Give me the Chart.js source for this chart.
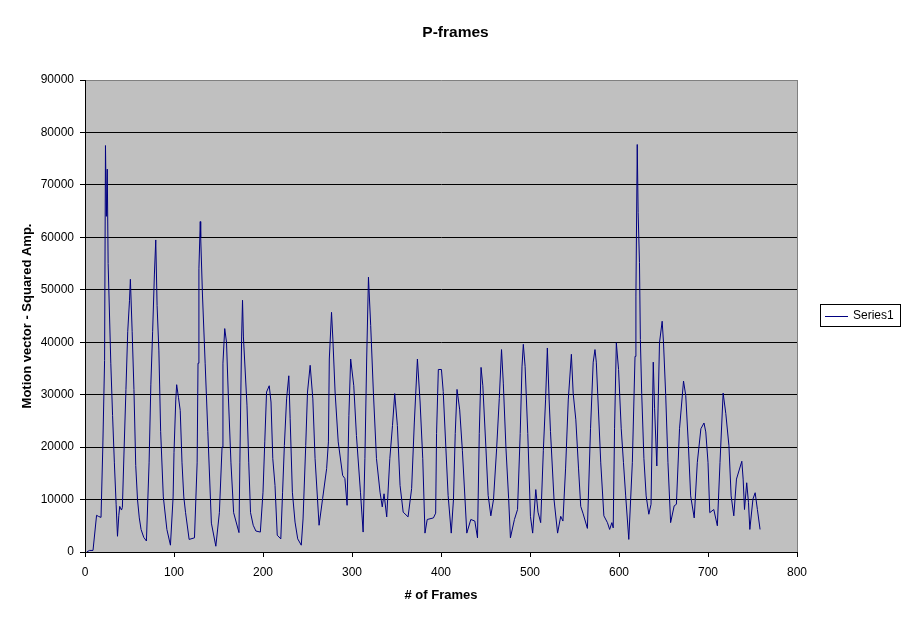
<!DOCTYPE html>
<html>
<head>
<meta charset="utf-8">
<title>P-frames</title>
<script src="https://cdn.jsdelivr.net/npm/chart.js@4/dist/chart.umd.min.js"></script>
<style>
  body { margin: 0; background: #fff; }
  canvas { display: block; }
</style>
</head>
<body>
<canvas id="pframes" width="911" height="623"></canvas>
<script>
// frame number of each sample
const frames = [
  2, 5, 9, 13, 15, 18, 20, 22, 23, 24, 25, 26, 29, 31, 33, 35, 36.5, 38, 39, 41,
  42, 44, 46, 48, 50, 51, 53, 55, 57, 59, 61, 63, 66, 69, 72, 74, 76, 78, 79.5, 81,
  83, 85, 88, 92, 96, 99, 100, 102, 103, 105, 107, 109, 111, 113, 117, 123, 126, 127, 128, 129.5,
  130, 132, 135, 138, 142, 147, 151, 154, 155, 157, 159, 161, 164, 167, 173, 174, 176, 177, 178, 182,
  184, 186, 189, 192, 197, 200, 202, 204, 207, 209, 211, 213.5, 216, 220, 222, 224, 226.5, 229, 230.5, 233,
  236, 239, 243, 245, 248, 250, 253, 256, 258.5, 263, 267, 271.5, 273.5, 274.5, 277, 278.5, 281, 284.5, 289.5, 292,
  294.5, 296.5, 298.5, 302, 305, 309.5, 312.5, 314.5, 316.5, 318.5, 321, 324, 327.5, 331.5, 334, 336, 339, 342.5, 345.5, 348,
  351, 354, 357.5, 363, 367, 370, 373.5, 376.5, 379.5, 382, 384.5, 391.5, 394, 395, 397, 400.5, 402.5, 405.5, 408, 411.5,
  414, 416, 418, 421, 424, 427, 429, 433.5, 438, 441, 443, 445, 447, 450.5, 453, 456, 459, 462.5, 465.5, 468,
  470, 473, 476, 478, 482.5, 486, 489, 491, 492.5, 494.5, 497.5, 500.5, 503, 506.5, 509, 512, 515, 517.5, 519.5, 521.5,
  523, 527, 531, 534.5, 537, 540, 543, 546.5, 548.5, 551.5, 554.5, 557, 559.5, 564.5, 568, 571, 573, 574.5, 577, 579.5,
  583, 587, 589.5, 592, 593.5, 595, 597, 599.5, 602.5, 605, 607.5, 611, 615, 618, 619, 620.5, 621.5, 623, 624, 625.5,
  628, 630.5, 633.5, 636, 638.5, 640, 642.5, 645.5, 648.5, 650, 652.5, 655, 658, 662, 664.5, 668, 672.5, 675, 678, 680.5,
  684.5, 688, 692, 695.5, 697.5, 700, 702, 706.5, 710.5, 713.5, 717, 720, 723.5, 726, 729, 732, 738, 739.5, 741, 743.5,
  745.5, 747, 750.5, 753, 755.5, 758.5
];

// motion vector squared amplitude per sample
const amplitudes = [
  0, 300, 300, 7000, 6800, 6600, 20000, 36500, 77500, 64000, 73000, 55000, 36000, 26000, 17000, 9000, 3000, 7000, 8700, 8000,
  8500, 20000, 31000, 42000, 48000, 52000, 42000, 31000, 16500, 10000, 6500, 4300, 2800, 2100, 17000, 32000, 42000, 53000, 59500, 47000,
  38500, 23000, 10500, 4300, 1300, 10500, 19000, 29000, 31900, 29500, 27000, 17000, 10500, 7500, 2400, 2700, 17000, 36000, 54000, 63000,
  60000, 49000, 36000, 23000, 5500, 1100, 7500, 20000, 36000, 42600, 40000, 30000, 17000, 7500, 3700, 17000, 41000, 48000, 41000, 28000,
  17000, 7500, 5100, 4000, 3800, 11400, 21000, 30500, 31700, 28600, 17800, 12700, 3200, 2500, 11400, 20300, 29200, 33600, 25400, 11400,
  5700, 2500, 1300, 6300, 20300, 30500, 35600, 29200, 17800, 5100, 10200, 15900, 21000, 36800, 45700, 40600, 30500, 21000, 14600, 14000,
  8900, 26000, 36800, 31700, 22200, 11400, 3800, 17800, 36800, 52400, 43200, 30500, 17800, 11400, 8600, 11100, 6700, 17800, 24100, 30200,
  24100, 12700, 7600, 6700, 12100, 24600, 36800, 28600, 17800, 3600, 6200, 6500, 7400, 22600, 34800, 34800, 30600, 19700, 10800, 3600,
  10000, 22600, 31000, 27100, 19400, 10000, 3600, 6200, 5900, 2700, 22600, 35200, 31700, 19700, 10800, 6900, 10000, 19700, 29300, 38600,
  32200, 19700, 10200, 2700, 6200, 8100, 22600, 35300, 39600, 35400, 22600, 6800, 3600, 11900, 7600, 5600, 19400, 29000, 38900, 29000,
  23000, 10000, 3600, 6800, 5900, 16000, 29000, 37700, 30300, 25200, 16000, 8700, 7400, 4500, 23500, 36200, 38600, 36200, 26700, 17000,
  6900, 5600, 4300, 5600, 4600, 23500, 39900, 34800, 23500, 17100, 10700, 2400, 17100, 37300, 48800, 77700, 64700, 55200, 40500, 30300,
  17800, 10700, 7200, 9100, 36200, 27300, 16400, 39900, 44000, 39900, 29800, 17100, 5600, 8800, 9100, 23500, 32600, 29800, 20300, 10700,
  6500, 17100, 23500, 24600, 22900, 17100, 7500, 8100, 5000, 17100, 30300, 26400, 20300, 10700, 6900, 13900, 17300, 13900, 8100, 13200,
  9400, 4300, 10100, 11300, 8100, 4300
];

const seriesName = 'Series1';
const yTicks = [0, 10000, 20000, 30000, 40000, 50000, 60000, 70000, 80000, 90000];
const xTicks = [0, 100, 200, 300, 400, 500, 600, 700, 800];

const FONT = "'Liberation Sans', Arial, sans-serif";
const LINE_COLOR = '#000080';

// grey plot area with a darker right edge, like the old Excel default
const plotArea = {
  id: 'plotArea',
  beforeDraw(chart) {
    const a = chart.chartArea, ctx = chart.ctx;
    ctx.save();
    ctx.fillStyle = '#c0c0c0';
    ctx.fillRect(a.left, a.top, a.right - a.left, a.bottom - a.top);
    ctx.restore();
  },
  afterDatasetsDraw(chart) {
    const a = chart.chartArea, ctx = chart.ctx;
    ctx.save();
    ctx.strokeStyle = '#808080';
    ctx.lineWidth = 1;
    ctx.beginPath();
    ctx.moveTo(Math.round(a.right) + 0.5, a.top);
    ctx.lineTo(Math.round(a.right) + 0.5, a.bottom);
    ctx.stroke();
    ctx.restore();
  }
};

// boxed legend off to the right of the plot
const boxLegend = {
  id: 'boxLegend',
  afterDraw(chart) {
    const ctx = chart.ctx;
    const x = 820, y = 304, w = 80, h = 22;
    ctx.save();
    ctx.fillStyle = '#fff';
    ctx.fillRect(x, y, w, h);
    ctx.strokeStyle = '#000';
    ctx.lineWidth = 1;
    ctx.strokeRect(x + 0.5, y + 0.5, w, h);
    ctx.strokeStyle = LINE_COLOR;
    ctx.beginPath();
    ctx.moveTo(x + 5, y + 12.5);
    ctx.lineTo(x + 28, y + 12.5);
    ctx.stroke();
    ctx.fillStyle = '#000';
    ctx.font = '12px ' + FONT;
    ctx.textBaseline = 'middle';
    ctx.fillText(chart.data.datasets[0].label, x + 33, y + 11.5);
    ctx.restore();
  }
};

new Chart(document.getElementById('pframes').getContext('2d'), {
  type: 'line',
  data: {
    datasets: [{
      label: seriesName,
      data: frames.map((f, i) => ({ x: f, y: amplitudes[i] })),
      borderColor: LINE_COLOR,
      borderWidth: 1,
      pointRadius: 0,
      tension: 0,
      fill: false
    }]
  },
  options: {
    responsive: false,
    animation: false,
    devicePixelRatio: 1,
    layout: { padding: 0 },
    scales: {
      x: {
        type: 'linear',
        min: 0,
        max: 800,
        afterBuildTicks: s => { s.ticks = xTicks.map(v => ({ value: v })); },
        afterFit: s => { s.height = 71; },
        ticks: { color: '#000', font: { family: FONT, size: 12 }, padding: 8, maxRotation: 0, callback: v => String(v) },
        grid: { drawOnChartArea: false, drawTicks: true, tickLength: 5, tickColor: '#000' },
        border: { color: '#000', width: 1 },
        title: {
          display: true,
          text: '# of Frames',
          color: '#000',
          font: { family: FONT, size: 13, weight: 'bold' },
          padding: { top: 4, bottom: 20 }
        }
      },
      y: {
        min: 0,
        max: 90000,
        afterBuildTicks: s => { s.ticks = yTicks.map(v => ({ value: v })); },
        afterFit: s => { s.width = 85; },
        ticks: { color: '#000', font: { family: FONT, size: 12 }, padding: 6, callback: v => String(v) },
        grid: {
          color: c => (c.tick && c.tick.value === 90000 ? '#808080' : '#000'),
          tickColor: '#000',
          tickLength: 5,
          lineWidth: 1
        },
        border: { color: '#000', width: 1 },
        title: {
          display: true,
          text: 'Motion vector - Squared Amp.',
          color: '#000',
          font: { family: FONT, size: 13, weight: 'bold' },
          padding: { top: 20, bottom: 4 }
        }
      },
      // empty strip on the right that holds the legend
      side: {
        position: 'right',
        min: 0,
        max: 1,
        afterFit: s => { s.width = 114; },
        ticks: { display: false },
        grid: { display: false },
        border: { display: false }
      }
    },
    plugins: {
      legend: { display: false },
      tooltip: { enabled: false },
      title: {
        display: true,
        text: 'P-frames',
        color: '#000',
        font: { family: FONT, size: 15.5, weight: 'bold' },
        padding: { top: 23, bottom: 38.4 }
      }
    }
  },
  plugins: [plotArea, boxLegend]
});
</script>
</body>
</html>
